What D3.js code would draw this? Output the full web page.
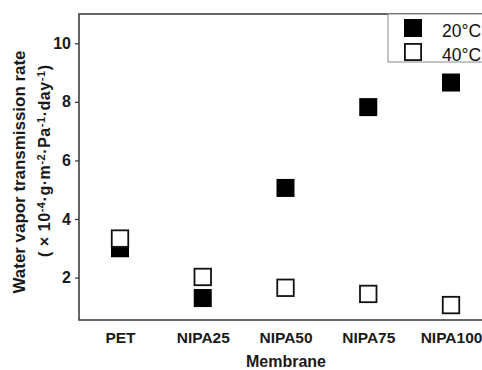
<!DOCTYPE html>
<html>
<head>
<meta charset="utf-8">
<script src="https://cdn.jsdelivr.net/npm/d3@7"></script>
<style>
  body { margin: 0; background: #fff; }
  svg { display: block; font-family: "Liberation Sans", Arial, sans-serif; }
</style>
</head>
<body>
<div id="chart"></div>
<script>
// Data
const membranes = ["PET", "NIPA25", "NIPA50", "NIPA75", "NIPA100"];
const wvtr20 = [3.0, 1.30, 5.06, 7.82, 8.66];
const wvtr40 = [3.33, 2.02, 1.65, 1.44, 1.06];
const yTicks = [2, 4, 6, 8, 10];
const seriesNames = ["20\u00b0C", "40\u00b0C"];

const width = 482;
const height = 370;
const margin = { top: 14, left: 79, bottom: 320 };

const svg = d3.select("#chart").append("svg")
    .attr("width", width)
    .attr("height", height);

// Scales
const x = d3.scalePoint()
    .domain(membranes)
    .range([120, 451]);

const y = d3.scaleLinear()
    .domain([0.55, 11])
    .range([margin.bottom, margin.top]);

// Frame (right side runs off the picture)
svg.append("rect")
    .attr("x", margin.left)
    .attr("y", margin.top)
    .attr("width", 500)
    .attr("height", margin.bottom - margin.top)
    .attr("fill", "none")
    .attr("stroke", "#333")
    .attr("stroke-width", 1.5);

// Y axis
const yAxis = svg.append("g")
    .attr("transform", `translate(${margin.left},0)`)
    .call(d3.axisLeft(y).tickValues(yTicks).tickSize(4).tickPadding(4));
yAxis.select(".domain").remove();
yAxis.selectAll("line").attr("stroke", "#333").attr("stroke-width", 1.2);
yAxis.selectAll("text")
    .attr("fill", "#1a1a1a")
    .style("font-size", "16px")
    .style("font-weight", "bold");

// X axis labels
const xAxis = svg.append("g")
    .attr("transform", `translate(0,${margin.bottom})`)
    .call(d3.axisBottom(x).tickSize(0).tickPadding(12));
xAxis.select(".domain").remove();
xAxis.selectAll("text")
    .attr("fill", "#1a1a1a")
    .style("font-size", "15.5px")
    .style("font-weight", "bold");

// Axis titles
svg.append("text")
    .attr("x", 286)
    .attr("y", 367)
    .attr("text-anchor", "middle")
    .style("font-size", "16px")
    .style("font-weight", "bold")
    .attr("fill", "#1a1a1a")
    .text("Membrane");

svg.append("text")
    .attr("transform", "translate(25,172) rotate(-90)")
    .attr("text-anchor", "middle")
    .attr("textLength", 243)
    .attr("lengthAdjust", "spacingAndGlyphs")
    .style("font-size", "16.5px")
    .style("font-weight", "bold")
    .attr("fill", "#1a1a1a")
    .text("Water vapor transmission rate");

const unit = svg.append("text")
    .attr("transform", "translate(50,161) rotate(-90)")
    .attr("text-anchor", "middle")
    .attr("textLength", 192)
    .attr("lengthAdjust", "spacing")
    .style("font-size", "16px")
    .style("font-weight", "bold")
    .attr("fill", "#1a1a1a");
const parts = [
    ["( \u00d7 10", false], ["-4", true], ["\u00b7g\u00b7m", false], ["-2", true],
    ["\u00b7Pa", false], ["-1", true], ["\u00b7day", false], ["-1", true], [")", false]
];
parts.forEach(([t, sup]) => {
    unit.append("tspan")
        .attr("baseline-shift", sup ? "50%" : null)
        .style("font-size", sup ? "11px" : null)
        .text(t);
});

// Marks: 20°C filled first, 40°C open on top
const size = 18;
svg.append("g").selectAll("rect")
    .data(membranes)
    .join("rect")
    .attr("x", d => x(d) - size / 2)
    .attr("y", (d, i) => y(wvtr20[i]) - size / 2)
    .attr("width", size)
    .attr("height", size)
    .attr("fill", "#000");

svg.append("g").selectAll("rect")
    .data(membranes)
    .join("rect")
    .attr("x", d => x(d) - size / 2 + 0.75)
    .attr("y", (d, i) => y(wvtr40[i]) - size / 2 + 0.75)
    .attr("width", size - 1.5)
    .attr("height", size - 1.5)
    .attr("fill", "#fff")
    .attr("stroke", "#111")
    .attr("stroke-width", 1.8);

// Legend
const legend = svg.append("g");
legend.append("rect")
    .attr("x", 388)
    .attr("y", margin.top)
    .attr("width", 120)
    .attr("height", 48)
    .attr("fill", "#fff")
    .attr("stroke", "#888")
    .attr("stroke-width", 1);

seriesNames.forEach((name, i) => {
    const cy = 28 + i * 24;
    legend.append("rect")
        .attr("x", 404 + (i ? 0.9 : 0))
        .attr("y", cy - 9 + (i ? 0.9 : 0))
        .attr("width", i ? 16.2 : 18)
        .attr("height", i ? 16.2 : 18)
        .attr("fill", i ? "#fff" : "#000")
        .attr("stroke", i ? "#111" : "none")
        .attr("stroke-width", 1.8);
    legend.append("text")
        .attr("x", 442)
        .attr("y", cy + 8.5)
        .style("font-size", "17.5px")
        .attr("fill", "#111")
        .text(name);
});
</script>
</body>
</html>
